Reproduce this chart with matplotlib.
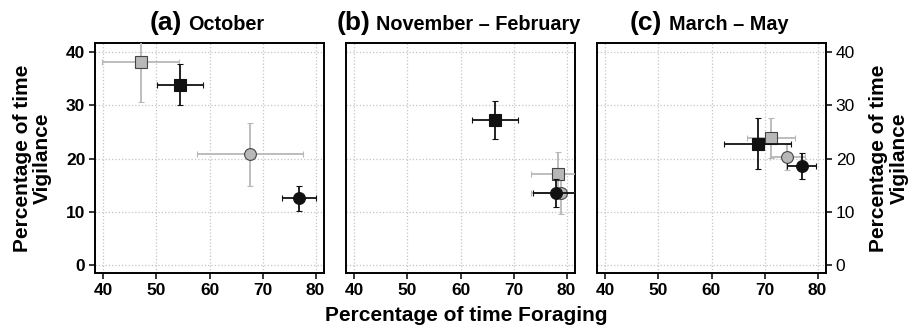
import numpy as np
import matplotlib
matplotlib.use("Agg")
import matplotlib.pyplot as plt

plt.rcParams['font.family'] = ['Liberation Sans', 'DejaVu Sans']

# panel titles
letters = ["(a)", "(b)", "(c)"]
periods = ["October", "November \u2013 February", "March \u2013 May"]

# gray squares
gsq_x = [47.0, 78.4, 71.2]
gsq_y = [38.2, 17.1, 23.9]
gsq_xerr = [7.2, 5.1, 4.5]
gsq_yerr = [7.5, 4.2, 3.8]

# black squares
bsq_x = [54.4, 66.5, 68.7]
bsq_y = [33.9, 27.3, 22.8]
bsq_xerr = [4.3, 4.4, 6.3]
bsq_yerr = [3.8, 3.6, 4.8]

# gray circles
gci_x = [67.6, 79.0, 74.3]
gci_y = [20.8, 13.6, 20.3]
gci_xerr = [10.0, 5.7, 3.3]
gci_yerr = [5.9, 4.0, 2.5]

# black circles
bci_x = [76.9, 78.0, 77.0]
bci_y = [12.5, 13.5, 18.6]
bci_xerr = [3.2, 4.3, 2.8]
bci_yerr = [2.3, 2.6, 2.5]

xticks = [40, 50, 60, 70, 80]
yticks = [0, 10, 20, 30, 40]

GRAY_BAR = '#b8b8b8'
GRAY_FILL = '#b8b8b8'
BLACK = '#111111'

fig = plt.figure(figsize=(9.16, 3.29), dpi=100)
lefts = [95, 346, 597]
title_split = [0.38, 0.105, 0.285]
axes = []
for i in range(3):
    ax = fig.add_axes([lefts[i] / 916, 56 / 329, 229 / 916, 230 / 329])
    axes.append(ax)
    ax.set_xlim(38.4, 81.6)
    ax.set_ylim(-1.5, 41.7)
    ax.set_xticks(xticks)
    ax.set_yticks(yticks)
    ax.grid(True, linestyle=':', color='#c4c4c4', linewidth=0.9)
    ax.set_axisbelow(True)
    for s in ax.spines.values():
        s.set_linewidth(1.4)
    ax.tick_params(axis='x', direction='out', length=4, width=1.1, labelsize=12.5, pad=3)
    for lab in ax.get_xticklabels():
        lab.set_fontweight('bold')

    kw = dict(capsize=2, elinewidth=1.3, capthick=1.1, linestyle='none')
    ax.errorbar(gsq_x[i], gsq_y[i], xerr=gsq_xerr[i], yerr=gsq_yerr[i], ecolor=GRAY_BAR,
                marker='s', ms=8, mfc=GRAY_FILL, mec='#444444', mew=0.8, zorder=3, **kw)
    ax.errorbar(gci_x[i], gci_y[i], xerr=gci_xerr[i], yerr=gci_yerr[i], ecolor=GRAY_BAR,
                marker='o', ms=8.5, mfc=GRAY_FILL, mec='#444444', mew=0.8, zorder=3, **kw)
    ax.errorbar(bsq_x[i], bsq_y[i], xerr=bsq_xerr[i], yerr=bsq_yerr[i], ecolor=BLACK,
                marker='s', ms=8, mfc=BLACK, mec=BLACK, mew=0.8, zorder=4, **kw)
    ax.errorbar(bci_x[i], bci_y[i], xerr=bci_xerr[i], yerr=bci_yerr[i], ecolor=BLACK,
                marker='o', ms=8.5, mfc=BLACK, mec=BLACK, mew=0.8, zorder=4, **kw)

    ax.text(title_split[i], 1.055, letters[i], transform=ax.transAxes, ha='right',
            va='baseline', fontsize=19, fontweight='bold')
    ax.text(title_split[i] + 0.028, 1.055, periods[i], transform=ax.transAxes, ha='left',
            va='baseline', fontsize=14.3, fontweight='bold')

# y axes
axes[0].tick_params(axis='y', direction='out', length=4, width=1.1, labelsize=12.5, pad=3)
for lab in axes[0].get_yticklabels():
    lab.set_fontweight('bold')
axes[0].set_ylabel("Percentage of time\nVigilance", fontsize=15, fontweight='bold',
                   linespacing=1.1, labelpad=10)

axes[1].tick_params(axis='y', left=False, labelleft=False)

axes[2].yaxis.tick_right()
axes[2].yaxis.set_label_position('right')
axes[2].tick_params(axis='y', direction='out', length=4, width=1.1, labelsize=12.5, pad=3)
axes[2].set_ylabel("Percentage of time\nVigilance", fontsize=15, fontweight='bold',
                   linespacing=1.1, labelpad=10)

axes[1].set_xlabel("Percentage of time Foraging", fontsize=15, fontweight='bold')
axes[1].xaxis.set_label_coords(0.525, -0.145)

fig.savefig("out.png", dpi=100)
